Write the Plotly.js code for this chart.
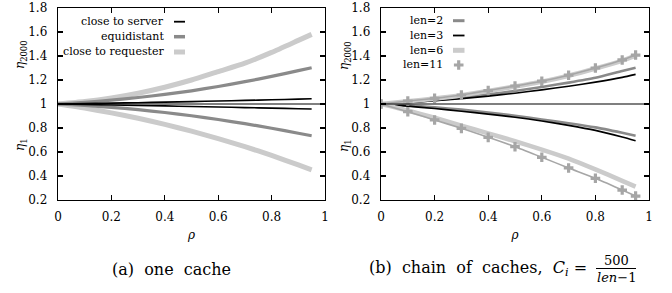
<!DOCTYPE html>
<html><head><meta charset="utf-8">
<script src="https://cdn.plot.ly/plotly-3.0.1.min.js"></script>
<style>body{margin:0;background:#fff}#c{width:672px;height:293px}</style>
</head><body><div id="c"></div>
<script>
// data
const rho = [0, 0.1, 0.2, 0.3, 0.4, 0.5, 0.6, 0.7, 0.8, 0.9, 0.95];
// (a) one cache
const serverHi = [1, 1.003, 1.007, 1.011, 1.016, 1.020, 1.025, 1.030, 1.035, 1.041, 1.044];
const serverLo = [1, 0.996, 0.992, 0.988, 0.984, 0.979, 0.975, 0.970, 0.966, 0.961, 0.958];
const equiHi   = [1, 1.014, 1.032, 1.054, 1.080, 1.110, 1.146, 1.186, 1.230, 1.278, 1.302];
const equiLo   = [1, 0.988, 0.972, 0.953, 0.929, 0.902, 0.871, 0.836, 0.798, 0.756, 0.735];
const reqHi    = [1, 1.020, 1.050, 1.090, 1.140, 1.200, 1.270, 1.340, 1.430, 1.530, 1.580];
const reqLo    = [1, 0.966, 0.926, 0.881, 0.830, 0.774, 0.712, 0.645, 0.571, 0.492, 0.451];
// (b) chain of caches
const len2Hi  = [1, 1.014, 1.032, 1.054, 1.080, 1.108, 1.142, 1.178, 1.218, 1.275, 1.302];
const len2Lo  = [1, 0.988, 0.972, 0.953, 0.929, 0.902, 0.871, 0.840, 0.805, 0.760, 0.736];
const len3Hi  = [1, 1.012, 1.027, 1.045, 1.066, 1.090, 1.118, 1.148, 1.182, 1.222, 1.247];
const len3Lo  = [1, 0.982, 0.962, 0.940, 0.916, 0.890, 0.858, 0.822, 0.780, 0.725, 0.694];
const len6Hi  = [1, 1.023, 1.045, 1.072, 1.108, 1.146, 1.186, 1.236, 1.296, 1.362, 1.404];
const len6Lo  = [1, 0.945, 0.885, 0.820, 0.755, 0.690, 0.620, 0.545, 0.455, 0.360, 0.311];
const len11Hi = [1, 1.025, 1.047, 1.075, 1.112, 1.150, 1.190, 1.240, 1.300, 1.367, 1.408];
const len11Lo = [1, 0.936, 0.867, 0.797, 0.722, 0.644, 0.556, 0.467, 0.381, 0.283, 0.233];
const xTicks = [0, 0.2, 0.4, 0.6, 0.8, 1];
const xTickText = ['0', '0.2', '0.4', '0.6', '0.8', '1'];
const yTicks = [0.2, 0.4, 0.6, 0.8, 1, 1.2, 1.4, 1.6, 1.8];
const yTickText = ['0.2', '0.4', '0.6', '0.8', '1', '1.2', '1.4', '1.6', '1.8'];
const legendA = ['close to server', 'equidistant', 'close to requester'];
const legendB = ['len=2', 'len=3', 'len=6', 'len=11'];
const refLevel = 1;

const BLACK = '#000000', MID = '#8a8a8a', LIGHT = '#cbcbcb', MARK = '#a6a6a6';
const FONT = '"DejaVu Serif", serif';

function ln(x, y, color, width, xa, ya, extra) {
  return Object.assign({x: x, y: y, xaxis: xa, yaxis: ya, mode: 'lines', type: 'scatter',
    line: {color: color, width: width, shape: 'spline', smoothing: 0.6}, hoverinfo: 'skip', showlegend: false}, extra || {});
}
const traces = [
  ln(rho, reqHi, LIGHT, 5, 'x', 'y'), ln(rho, reqLo, LIGHT, 5, 'x', 'y'),
  ln(rho, equiHi, MID, 3.2, 'x', 'y'), ln(rho, equiLo, MID, 3.2, 'x', 'y'),
  ln(rho, serverHi, BLACK, 1.6, 'x', 'y'), ln(rho, serverLo, BLACK, 1.6, 'x', 'y'),
  ln(rho, len2Hi, MID, 2.6, 'x2', 'y2'), ln(rho, len2Lo, MID, 2.6, 'x2', 'y2'),
  ln(rho, len3Hi, BLACK, 1.6, 'x2', 'y2'), ln(rho, len3Lo, BLACK, 1.6, 'x2', 'y2'),
  ln(rho, len6Hi, LIGHT, 4.6, 'x2', 'y2'), ln(rho, len6Lo, LIGHT, 4.6, 'x2', 'y2'),
  ln(rho, len11Hi, MARK, 1.6, 'x2', 'y2', {mode: 'lines+markers', marker: {symbol: 'cross', size: 8, color: MARK}}),
  ln(rho, len11Lo, MARK, 1.6, 'x2', 'y2', {mode: 'lines+markers', marker: {symbol: 'cross', size: 8, color: MARK}}),
  // legend key marker for len=11 (pixel-space overlay axes)
  {x: [458.7], y: [65], xaxis: 'x3', yaxis: 'y3', mode: 'markers', type: 'scatter',
   marker: {symbol: 'cross', size: 8, color: MARK}, hoverinfo: 'skip', showlegend: false}
];

const W = 672, H = 293;
const px = v => v / W, py = v => 1 - v / H;
const tf = {family: FONT, size: 12, color: '#000'};
const lf = {family: FONT, size: 11, color: '#000'};
function xa(domain, anchor) {
  return {domain: domain, anchor: anchor, range: [0, 1], tickvals: xTicks, ticktext: xTickText, ticks: 'inside', ticklen: 5,
    tickwidth: 1.2, tickcolor: '#000', mirror: 'allticks', showline: true, linecolor: '#000', linewidth: 1.3,
    showgrid: false, zeroline: false, fixedrange: true, ticklabelstandoff: 5,
    tickfont: tf,
    title: {text: '<i>ρ</i>', font: tf, standoff: 8}};
}
function ya(domain, anchor) {
  return {domain: domain, anchor: anchor, range: [0.2, 1.8], tickvals: yTicks, ticktext: yTickText, ticks: 'inside', ticklen: 5,
    tickwidth: 1.2, tickcolor: '#000', mirror: 'allticks', showline: true, linecolor: '#000', linewidth: 1.3,
    showgrid: false, zeroline: false, fixedrange: true, ticklabelstandoff: 7,
    tickfont: tf};
}
const yDom = [py(200), py(8)];
const layout = {
  width: W, height: H, margin: {l: 0, r: 0, t: 0, b: 0}, paper_bgcolor: '#fff', plot_bgcolor: 'rgba(0,0,0,0)',
  showlegend: false, font: tf,
  xaxis: xa([px(58), px(325)], 'y'), yaxis: ya(yDom, 'x'),
  xaxis2: xa([px(381), px(649)], 'y2'), yaxis2: ya(yDom, 'x2'),
  xaxis3: {domain: [0, 1], range: [0, W], visible: false, fixedrange: true, anchor: 'y3'},
  yaxis3: {domain: [0, 1], range: [H, 0], visible: false, fixedrange: true, anchor: 'x3'},
  shapes: [], annotations: []
};
// reference lines at eta = 1
[['x', 'y'], ['x2', 'y2']].forEach(([xr, yr]) => {
  layout.shapes.push({type: 'line', xref: xr + ' domain', yref: yr, x0: 0, x1: 1, y0: refLevel, y1: refLevel,
    line: {color: '#000', width: 1.2}, layer: 'above'});
});
// legends
const legA = [[21.7, BLACK, 1.8], [36.7, MID, 3.5], [52, LIGHT, 5]];
legendA.forEach((t, i) => {
  const [yy, c, w] = legA[i];
  layout.annotations.push({text: t, xref: 'paper', yref: 'paper', x: px(166), y: py(yy), xanchor: 'right', yanchor: 'middle',
    showarrow: false, font: lf});
  layout.shapes.push({type: 'line', xref: 'paper', yref: 'paper', x0: px(174), x1: px(185), y0: py(yy), y1: py(yy),
    line: {color: c, width: w}});
});
const legB = [[20.7, MID, 3], [35.5, BLACK, 1.8], [50.3, LIGHT, 5], [65, null, 0]];
legendB.forEach((t, i) => {
  const [yy, c, w] = legB[i];
  layout.annotations.push({text: t, xref: 'paper', yref: 'paper', x: px(445), y: py(yy), xanchor: 'right', yanchor: 'middle',
    showarrow: false, font: lf});
  if (c) layout.shapes.push({type: 'line', xref: 'paper', yref: 'paper', x0: px(453), x1: px(464.5), y0: py(yy), y1: py(yy),
    line: {color: c, width: w}});
});
// y-axis titles
[21, 345].forEach((xx) => {
  layout.annotations.push({text: '<i>η</i><sub>2000</sub>', xref: 'paper', yref: 'paper', x: px(xx), y: py(55), textangle: -90,
    xanchor: 'center', yanchor: 'middle', showarrow: false, font: tf});
  layout.annotations.push({text: '<i>η</i><sub>1</sub>', xref: 'paper', yref: 'paper', x: px(xx), y: py(145), textangle: -90,
    xanchor: 'center', yanchor: 'middle', showarrow: false, font: tf});
});
// captions
const cf = {family: FONT, size: 16, color: '#000'};
layout.annotations.push({text: '(a)  one  cache', xref: 'paper', yref: 'paper', x: px(171), y: py(269), xanchor: 'center', yanchor: 'middle', showarrow: false, font: cf});
layout.annotations.push({text: '(b)  chain  of  caches,  <i>C<sub>i</sub></i> = ', xref: 'paper', yref: 'paper', x: px(594), y: py(268), xanchor: 'right', yanchor: 'middle', showarrow: false, font: cf});
layout.annotations.push({text: '500', xref: 'paper', yref: 'paper', x: px(616), y: py(260), xanchor: 'center', yanchor: 'middle', showarrow: false, font: {family: FONT, size: 13, color: '#000'}});
layout.annotations.push({text: '<i>len</i>−1', xref: 'paper', yref: 'paper', x: px(616), y: py(277), xanchor: 'center', yanchor: 'middle', showarrow: false, font: {family: FONT, size: 13, color: '#000'}});
layout.shapes.push({type: 'line', xref: 'paper', yref: 'paper', x0: px(596), x1: px(636), y0: py(268.5), y1: py(268.5), line: {color: '#000', width: 1}});

Plotly.newPlot('c', traces, layout, {staticPlot: true, displayModeBar: false});
</script>
</body></html>
